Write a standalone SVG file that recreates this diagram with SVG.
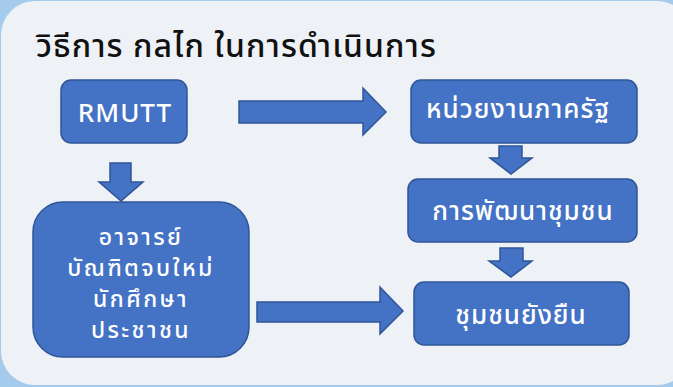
<svg xmlns="http://www.w3.org/2000/svg" width="673" height="387" viewBox="0 0 673 387">
<style>
.box{fill:#4472c4;stroke:#2f5597;stroke-width:1.5}
.arr{fill:#4472c4;stroke:#2f5597;stroke-width:1.5;stroke-linejoin:miter}
.t{font-family:"Noto Sans Thai","Noto Sans","Liberation Sans",sans-serif;fill:#ffffff;font-size:26px;font-weight:500;text-anchor:middle;letter-spacing:1px}
.m{font-size:23px;letter-spacing:2.4px}
.title{font-family:"Noto Sans Thai","Noto Sans","Liberation Sans",sans-serif;fill:#111111;font-size:32px;font-weight:500;letter-spacing:1.1px}
</style>
<rect x="0" y="0" width="673" height="387" fill="#a4cbec"/>
<rect x="1" y="1" width="690" height="384" rx="34" fill="#eef1f5"/>
<text class="title" x="36" y="57">วิธีการ กลไก ในการดำเนินการ</text>
<g id="connectors">
<path class="arr" d="M239,101 H363 V88 L386,112 L363,135 V123 H239 Z"/>
<path class="arr" d="M110,163 H131 V182 H143 L121,201 L99,182 H110 Z"/>
<path class="arr" d="M499,146 H522 V158 H532 L511,174 L490,158 H499 Z"/>
<path class="arr" d="M500,248 H523 V261 H532 L511,277 L489,261 H500 Z"/>
<path class="arr" d="M257,302 H380 V287 L403,311 L380,334 V322 H257 Z"/>
</g>
<g id="rmutt">
<rect class="box" x="61" y="80" width="126" height="63" rx="10"/>
<text class="t" x="125" y="122">RMUTT</text>
</g>
<g id="gov">
<rect class="box" x="411" y="80" width="226" height="63" rx="10"/>
<text class="t" x="518" y="118">หน่วยงานภาครัฐ</text>
</g>
<g id="dev">
<rect class="box" x="408" y="179" width="229" height="63" rx="10"/>
<text class="t" x="523" y="220">การพัฒนาชุมชน</text>
</g>
<g id="sustain">
<rect class="box" x="414" y="282" width="215" height="63" rx="10"/>
<text class="t" x="521" y="324">ชุมชนยังยืน</text>
</g>
<g id="people">
<rect class="box" x="33" y="202" width="216" height="155" rx="30"/>
<text class="t m" x="141" y="245">อาจารย์</text>
<text class="t m" x="141" y="276">บัณฑิตจบใหม่</text>
<text class="t m" x="141" y="307">นักศึกษา</text>
<text class="t m" x="141" y="338">ประชาชน</text>
</g>
</svg>
